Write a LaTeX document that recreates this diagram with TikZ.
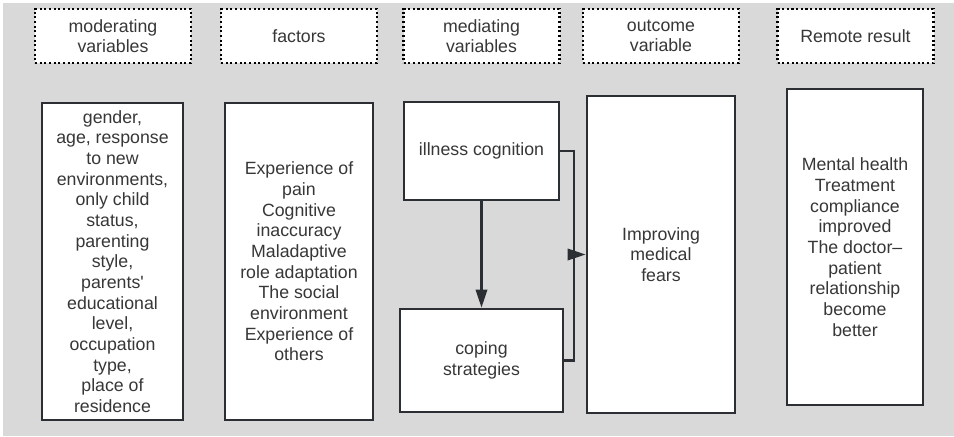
\documentclass[tikz,border=0pt]{standalone}
\usepackage{fontspec}
\setmainfont{Liberation Sans}
\usetikzlibrary{arrows.meta}
\definecolor{bggray}{RGB}{217,217,217}
\definecolor{boxline}{RGB}{43,47,51}
\definecolor{txtgray}{RGB}{55,55,55}
\begin{document}
\begin{tikzpicture}[x=0.75pt,y=-0.75pt,
    headbox/.style={draw=black, fill=white, line width=2pt, dash pattern=on 1.6pt off 1.9pt,
        minimum width=117pt, minimum height=40.5pt, align=center, text=txtgray,
        font=\fontsize{13.3}{15.5}\selectfont},
    mainbox/.style={draw=boxline, fill=white, line width=2pt, align=center, inner sep=0pt,
        text=txtgray, font=\fontsize{13.3}{15.5}\selectfont},
    link/.style={draw=boxline, line width=1.8pt},
    tip/.style={-{Triangle[length=13.5pt,width=8.5pt]}}]
    \useasboundingbox (0,0) rectangle (954,436);
    \fill[bggray] (3,3) rectangle (954,436);
    % header row
    \node[headbox] (hmod) at (113,36) {moderating\\variables};
    \node[headbox] (hfac) at (299,36) {factors};
    \node[headbox] (hmed) at (481.5,36) {mediating\\variables};
    \node[headbox] (hout) at (661,36) {outcome\\variable};
    \node[headbox] (hrem) at (855.5,36) {Remote result};
    % main boxes
    \node[mainbox, minimum width=105.75pt, minimum height=237.75pt] (mod) at (112.5,261.5)
        {gender,\\age, response\\to new\\environments,\\only child\\status,\\parenting\\style,\\parents\textquotesingle\\educational\\level,\\occupation\\type,\\place of\\residence};
    \node[mainbox, minimum width=111pt, minimum height=237.75pt] (fac) at (299,261.5)
        {Experience of\\pain\\Cognitive\\inaccuracy\\Maladaptive\\role adaptation\\The social\\environment\\Experience of\\others};
    \node[mainbox, minimum width=116.25pt, minimum height=73.5pt] (ill) at (481.5,151) {illness cognition};
    \node[mainbox, minimum width=122.25pt, minimum height=77.25pt] (cop) at (481.5,360.5) {coping\\strategies};
    \node[mainbox, minimum width=111pt, minimum height=237.75pt] (out) at (661,254.5) {Improving\\medical\\fears};
    \node[mainbox, minimum width=102pt, minimum height=237pt] (rem) at (855,247)
        {Mental health\\Treatment\\compliance\\improved\\The doctor--\\patient\\relationship\\become\\better};
    % connectors
    \coordinate (join) at (574,254.5);
    \draw[link, tip] (ill.south) -- (cop.north);
    \draw[link] (ill.east) -| (join);
    \draw[link] (cop.east) -| (join);
    \draw[link, tip] (join) -- (out.west);
\end{tikzpicture}
\end{document}
